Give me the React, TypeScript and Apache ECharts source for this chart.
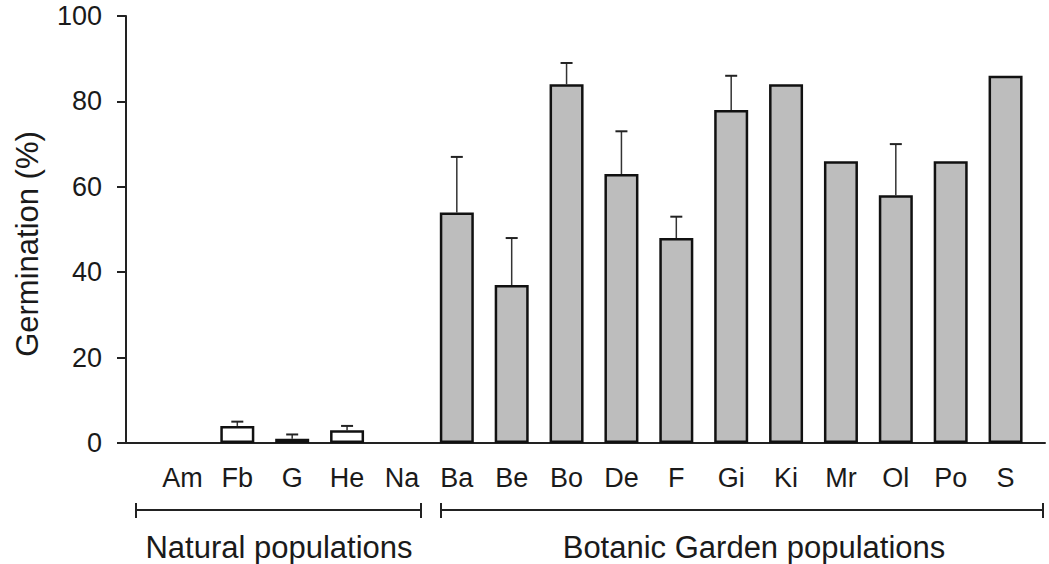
import React, { useEffect, useRef } from "react";
import * as echarts from "echarts";

const categories = ["Am", "Fb", "G", "He", "Na", "Ba", "Be", "Bo", "De", "F", "Gi", "Ki", "Mr", "Ol", "Po", "S"];
const germination = [0, 4, 1, 3, 0, 54, 37, 84, 63, 48, 78, 84, 66, 58, 66, 86];
const errors = [0, 1, 1, 1, 0, 13, 11, 5, 10, 5, 8, 0, 0, 12, 0, 0];
const naturalCount = 5;
const groupLabels = ["Natural populations", "Botanic Garden populations"];
const yMin = 0;
const yMax = 100;
const yInterval = 20;

const FONT = "'Liberation Sans', Arial, Helvetica, sans-serif";
const TEXT = "#1a1a1a";

export default function App() {
  const ref = useRef<HTMLDivElement>(null);

  useEffect(() => {
    if (!ref.current) return;
    const chart = echarts.init(ref.current, null, { renderer: "svg" });

    const barData = germination.map((v, i) => ({
      value: v,
      itemStyle: {
        color: i < naturalCount ? "#ffffff" : "#bdbdbd",
        borderColor: "#111111",
        borderWidth: v === 0 ? 0 : 2.5,
      },
    }));
    const errData = germination.map((v, i) => [i, v, errors[i]]);

    chart.setOption({
      animation: false,
      backgroundColor: "#ffffff",
      textStyle: { fontFamily: FONT },
      grid: [
        { left: 126, right: 4, top: 16, bottom: 121 },
        { left: 155, right: 16, top: 16, bottom: 121 },
      ],
      xAxis: [
        {
          gridIndex: 0,
          type: "value",
          min: 0,
          max: 1,
          axisLine: { show: true, lineStyle: { color: "#222", width: 2 } },
          axisTick: { show: false },
          axisLabel: { show: false },
          splitLine: { show: false },
        },
        {
          gridIndex: 1,
          type: "category",
          data: categories,
          axisLine: { show: false },
          axisTick: { show: false },
          axisLabel: { fontSize: 27, color: TEXT, margin: 21, fontFamily: FONT },
          splitLine: { show: false },
        },
      ],
      yAxis: [
        {
          gridIndex: 0,
          type: "value",
          min: yMin,
          max: yMax,
          interval: yInterval,
          axisLine: { show: true, lineStyle: { color: "#222", width: 2 } },
          axisTick: { show: true, inside: false, length: 9, lineStyle: { color: "#222", width: 2 } },
          axisLabel: { fontSize: 27, color: TEXT, margin: 24, fontFamily: FONT },
          splitLine: { show: false },
        },
        {
          gridIndex: 1,
          type: "value",
          min: yMin,
          max: yMax,
          show: false,
        },
      ],
      series: [
        {
          type: "bar",
          xAxisIndex: 1,
          yAxisIndex: 1,
          barWidth: 34,
          data: barData,
          z: 3,
        },
        {
          type: "custom",
          xAxisIndex: 1,
          yAxisIndex: 1,
          z: 2,
          data: errData,
          renderItem: (params: any, api: any) => {
            const x = api.value(0);
            const v = api.value(1);
            const e = api.value(2);
            if (!e) return { type: "group", children: [] };
            const base = api.coord([x, v]);
            const top = api.coord([x, v + e]);
            return {
              type: "group",
              children: [
                {
                  type: "line",
                  shape: { x1: base[0], y1: base[1], x2: base[0], y2: top[1] },
                  style: { stroke: "#333", lineWidth: 1.5 },
                },
                {
                  type: "line",
                  shape: { x1: base[0] - 6, y1: top[1], x2: base[0] + 6, y2: top[1] },
                  style: { stroke: "#222", lineWidth: 2 },
                },
              ],
            };
          },
        },
      ],
      graphic: [
        {
          type: "text",
          x: 27,
          y: 244,
          rotation: Math.PI / 2,
          style: {
            text: "Germination (%)",
            fontSize: 31,
            fontFamily: FONT,
            fill: TEXT,
            align: "center",
            verticalAlign: "middle",
          },
        },
        { type: "line", shape: { x1: 136, y1: 510, x2: 421, y2: 510 }, style: { stroke: "#222", lineWidth: 2 } },
        { type: "line", shape: { x1: 136, y1: 503, x2: 136, y2: 518 }, style: { stroke: "#222", lineWidth: 2 } },
        { type: "line", shape: { x1: 421, y1: 503, x2: 421, y2: 518 }, style: { stroke: "#222", lineWidth: 2 } },
        { type: "line", shape: { x1: 441, y1: 510, x2: 1043, y2: 510 }, style: { stroke: "#222", lineWidth: 2 } },
        { type: "line", shape: { x1: 441, y1: 503, x2: 441, y2: 518 }, style: { stroke: "#222", lineWidth: 2 } },
        { type: "line", shape: { x1: 1043, y1: 503, x2: 1043, y2: 518 }, style: { stroke: "#222", lineWidth: 2 } },
        {
          type: "text",
          x: 279,
          y: 547,
          style: {
            text: groupLabels[0],
            fontSize: 31,
            fontFamily: FONT,
            fill: TEXT,
            align: "center",
            verticalAlign: "middle",
          },
        },
        {
          type: "text",
          x: 754,
          y: 547,
          style: {
            text: groupLabels[1],
            fontSize: 31,
            fontFamily: FONT,
            fill: TEXT,
            align: "center",
            verticalAlign: "middle",
          },
        },
      ],
    });

    return () => chart.dispose();
  }, []);

  return (
    <div
      ref={ref}
      style={{ position: "fixed", left: 0, top: 0, width: 1049, height: 564, background: "#fff" }}
    />
  );
}
